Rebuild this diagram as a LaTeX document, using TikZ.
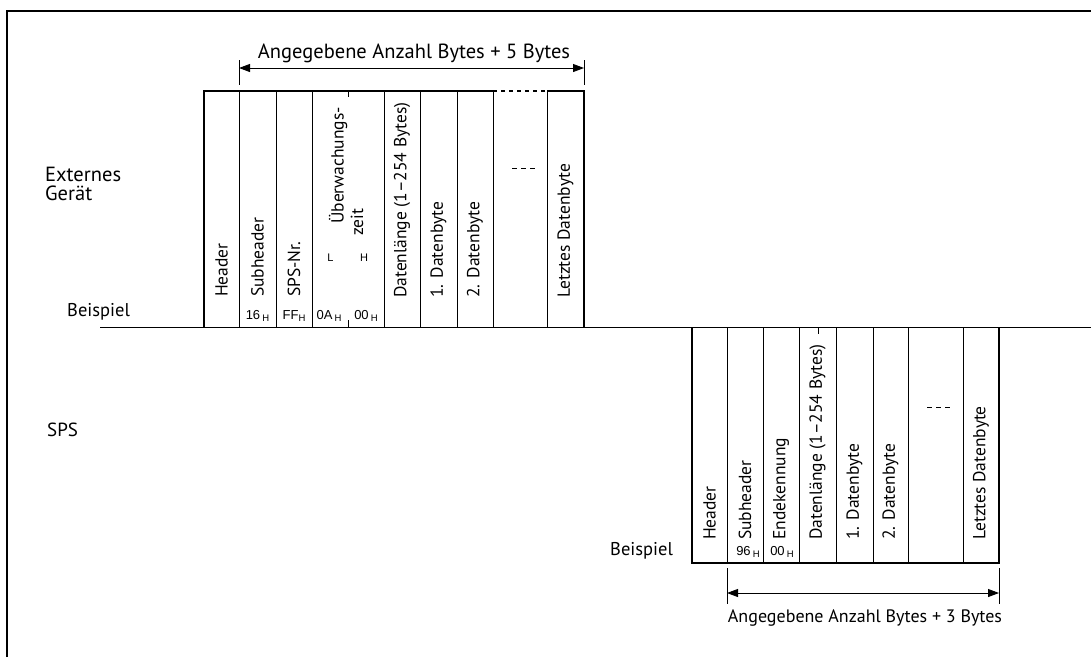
\documentclass[tikz,border=0pt]{standalone}
\usepackage{fontspec}
\setmainfont{PT Sans}
\newfontfamily\hexfont{Liberation Sans}
\usetikzlibrary{arrows.meta}

% hex value with small index H
\newcommand{\hx}[1]{#1\,{\fontsize{9.5}{9.5}\selectfont\raisebox{-1.5pt}{H}}}

\begin{document}
\begin{tikzpicture}[
    x=1pt, y=-1pt,
    every node/.style={font=\fontsize{17.5}{20}\selectfont, inner sep=0pt},
    big/.style={font=\fontsize{20.5}{20}\selectfont},
    frame/.style={line width=2.4pt},
    outline/.style={line width=1.5pt},
    sep/.style={line width=0.9pt},
    field/.style={rotate=90, anchor=west},
    hex/.style={font=\hexfont\fontsize{13}{13}\selectfont},
    dim/.style={line width=0.9pt},
    span/.style={dim, {Triangle[length=11pt,width=8pt]}-{Triangle[length=11pt,width=8pt]}},
]
\useasboundingbox (0,0) rectangle (1091,657);

% open frame and dividing line
\draw[frame] (7,657) |- (1091,11);
\coordinate (divL) at (100,327);
\coordinate (divR) at (1091,327);
\draw[sep] (divL) -- (divR);

% side labels
\node[anchor=west, align=left, font=\fontsize{20.5}{19}\selectfont] (dev) at (45,184) {Externes\\Gerät};
\node[anchor=base west, font=\fontsize{18.5}{19}\selectfont] (ex1) at (67,316) {Beispiel};
\node[anchor=base west, font=\fontsize{19}{19}\selectfont] (plc) at (47,436) {SPS};
\node[anchor=base west, font=\fontsize{18.5}{19}\selectfont] (ex2) at (610,555) {Beispiel};

% --- request frame (external device -> PLC)
\coordinate (reqTL) at (204,91);
\coordinate (reqBR) at (584,327);
\foreach \x in {239,276,312,384,420,457,493,547}
    \draw[sep] (\x,91) -- (\x,327);
\draw[outline] (204,327) -- (204,91) -- (493,91);
\draw[outline, dash pattern=on 4pt off 4pt] (493,91) -- (547,91);
\draw[outline] (547,91) -- (584,91) -- (584,327);
\draw[sep] (348,91) -- (348,97);
\draw[sep] (348,320) -- (348,327);

\node[field] (rHead) at (221.5,297) {Header};
\node[field] (rSub)  at (257.5,297) {Subheader};
\node[field] (rNo)   at (294,297) {SPS-Nr.};
\node[field] (rMon1) at (338,224) {Überwachungs-};
\node[field] (rMon2) at (357,236) {zeit};
\node[hex, font=\hexfont\fontsize{11}{11}\selectfont] (rL) at (330.5,258) {L};
\node[hex, font=\hexfont\fontsize{11}{11}\selectfont] (rH) at (364,258) {H};
\node[field] (rLen)  at (402,298) {Datenlänge (1--254 Bytes)};
\node[field] (rD1)   at (438.5,298) {1. Datenbyte};
\node[field] (rD2)   at (475,298) {2. Datenbyte};
\node[field] (rLast) at (565.5,298) {Letztes Datenbyte};
\coordinate (rDotsA) at (512,168);
\coordinate (rDotsB) at (538,168);
\draw[sep, dash pattern=on 5pt off 4pt] (rDotsA) -- (rDotsB);

\node[hex] (rV1) at (257.5,316) {\hx{16}};
\node[hex] (rV2) at (294,316) {FF{\fontsize{9.5}{9.5}\selectfont\raisebox{-1.5pt}{H}}};
\node[hex] (rV3) at (329,316) {\hx{0A}};
\node[hex] (rV4) at (366,316) {\hx{00}};

% byte count of the request
\coordinate (rA) at (239,68);
\coordinate (rB) at (584,68);
\draw[dim] (239,60) -- (239,85);
\draw[dim] (584,60) -- (584,85);
\draw[span] (rA) -- (rB);
\node[anchor=base, big] (rCount) at (414,58) {Angegebene Anzahl Bytes + 5 Bytes};

% --- response frame (PLC -> external device)
\coordinate (resTL) at (692,327);
\coordinate (resBR) at (999,563);
\foreach \x in {727,763,799,836,873,908,963}
    \draw[sep] (\x,327) -- (\x,563);
\draw[outline] (692,327) -- (692,563) -- (999,563) -- (999,327);
\draw[sep] (818,327) -- (818,334);

\node[field] (aHead) at (709.5,540) {Header};
\node[field] (aSub)  at (745,540) {Subheader};
\node[field] (aEnd)  at (781,540) {Endekennung};
\node[field] (aLen)  at (817.5,540) {Datenlänge (1--254 Bytes)};
\node[field] (aD1)   at (854.5,540) {1. Datenbyte};
\node[field] (aD2)   at (890.5,540) {2. Datenbyte};
\node[field] (aLast) at (981,540) {Letztes Datenbyte};
\coordinate (aDotsA) at (927,407);
\coordinate (aDotsB) at (953,407);
\draw[sep, dash pattern=on 5pt off 4pt] (aDotsA) -- (aDotsB);

\node[hex] (aV1) at (748,552) {\hx{96}};
\node[hex] (aV2) at (782,552) {\hx{00}};

% byte count of the response
\coordinate (aA) at (727,593);
\coordinate (aB) at (999,593);
\draw[dim] (727,568) -- (727,604);
\draw[dim] (999,568) -- (999,604);
\draw[span] (aA) -- (aB);
\node[anchor=base, font=\fontsize{18}{20}\selectfont] (aCount) at (865,622) {Angegebene Anzahl Bytes + 3 Bytes};
\end{tikzpicture}
\end{document}
